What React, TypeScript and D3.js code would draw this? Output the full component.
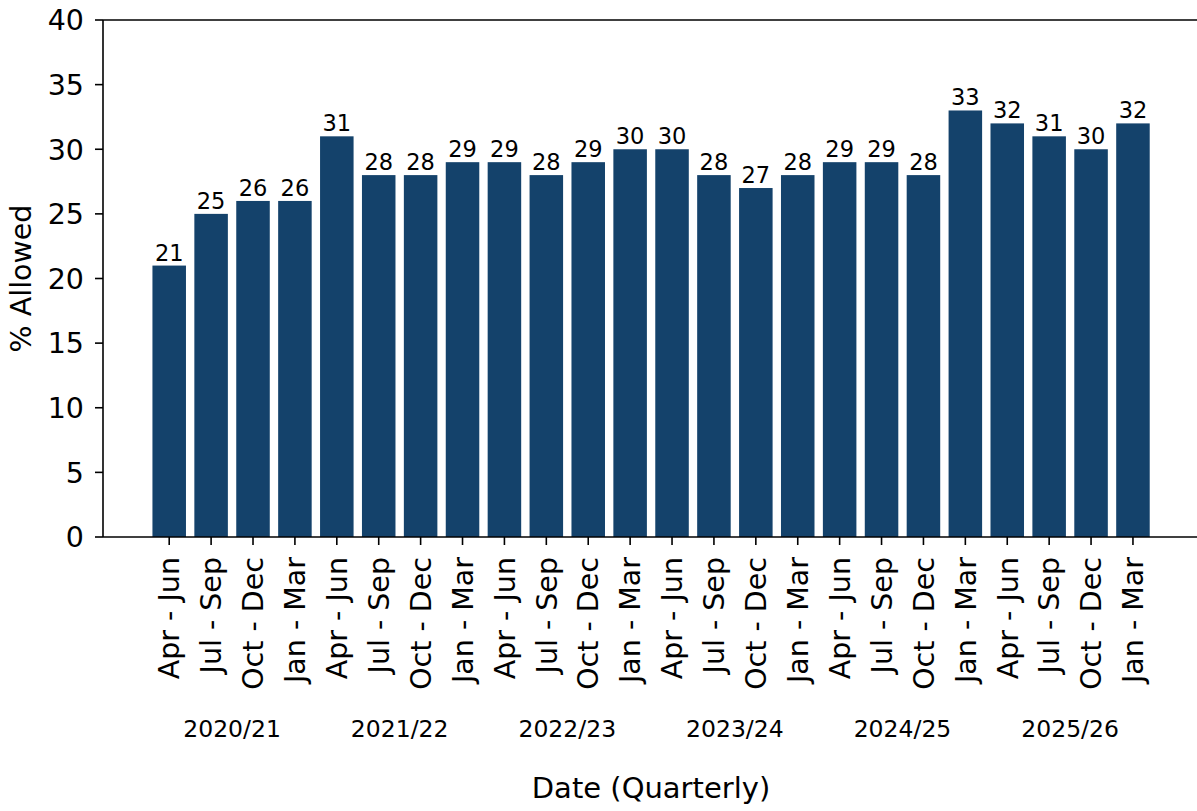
import React from "react";
import * as d3 from "d3";

const quarters = ["Apr - Jun", "Jul - Sep", "Oct - Dec", "Jan - Mar"];
const years = ["2020/21", "2021/22", "2022/23", "2023/24", "2024/25", "2025/26"];
const values = [21, 25, 26, 26, 31, 28, 28, 29, 29, 28, 29, 30, 30, 28, 27, 28, 29, 29, 28, 33, 32, 31, 30, 32];
const yTicks = [0, 5, 10, 15, 20, 25, 30, 35, 40];

const W = 1197;
const H = 811;
const FONT = "DejaVu Sans, Verdana, sans-serif";
const BAR = "#14426b";

export default function App() {
  const x = d3.scaleLinear().domain([-1.58, 24.6]).range([103, 1200]);
  const y = d3.scaleLinear().domain([0, 40]).range([537, 20]);
  const step = x(1) - x(0);
  const bw = step * 0.8;
  const labels = values.map((_, i) => quarters[i % 4]);

  return (
    <svg
      width={W}
      height={H}
      style={{ position: "absolute", left: 0, top: 0, background: "#fff" }}
      fontFamily={FONT}
    >
      {values.map((v, i) => (
        <rect
          key={"b" + i}
          x={x(i) - bw / 2}
          y={y(v)}
          width={bw}
          height={y(0) - y(v)}
          fill={BAR}
        />
      ))}
      {values.map((v, i) => (
        <text
          key={"v" + i}
          x={x(i)}
          y={y(v) - 5}
          fontSize={22.5}
          textAnchor="middle"
          fill="#000"
        >
          {v}
        </text>
      ))}
      {/* axes */}
      <line x1={103} x2={W + 5} y1={y(40)} y2={y(40)} stroke="#000" strokeWidth={1.6} />
      <line x1={103} x2={W + 5} y1={y(0)} y2={y(0)} stroke="#000" strokeWidth={1.6} />
      <line x1={103} x2={103} y1={y(40)} y2={y(0)} stroke="#000" strokeWidth={1.6} />
      {yTicks.map((t) => (
        <g key={"yt" + t}>
          <line x1={95} x2={103} y1={y(t)} y2={y(t)} stroke="#000" strokeWidth={1.6} />
          <text x={84} y={y(t)} dy="0.36em" fontSize={28.5} textAnchor="end" fill="#000">
            {t}
          </text>
        </g>
      ))}
      {labels.map((l, i) => (
        <g key={"xt" + i}>
          <line x1={x(i)} x2={x(i)} y1={y(0)} y2={y(0) + 8} stroke="#000" strokeWidth={1.6} />
          <text
            transform={`translate(${x(i)},${y(0) + 20}) rotate(-90)`}
            dy="0.36em"
            fontSize={28.5}
            textAnchor="end"
            fill="#000"
          >
            {l}
          </text>
        </g>
      ))}
      {years.map((yr, k) => (
        <text
          key={"yr" + k}
          x={(x(k * 4) + x(k * 4 + 3)) / 2}
          y={737}
          fontSize={23.5}
          textAnchor="middle"
          fill="#000"
        >
          {yr}
        </text>
      ))}
      <text x={651} y={798} fontSize={29} textAnchor="middle" fill="#000">
        Date (Quarterly)
      </text>
      <text
        transform={`translate(31,${(y(0) + y(40)) / 2}) rotate(-90)`}
        fontSize={28.5}
        textAnchor="middle"
        fill="#000"
      >
        % Allowed
      </text>
    </svg>
  );
}
